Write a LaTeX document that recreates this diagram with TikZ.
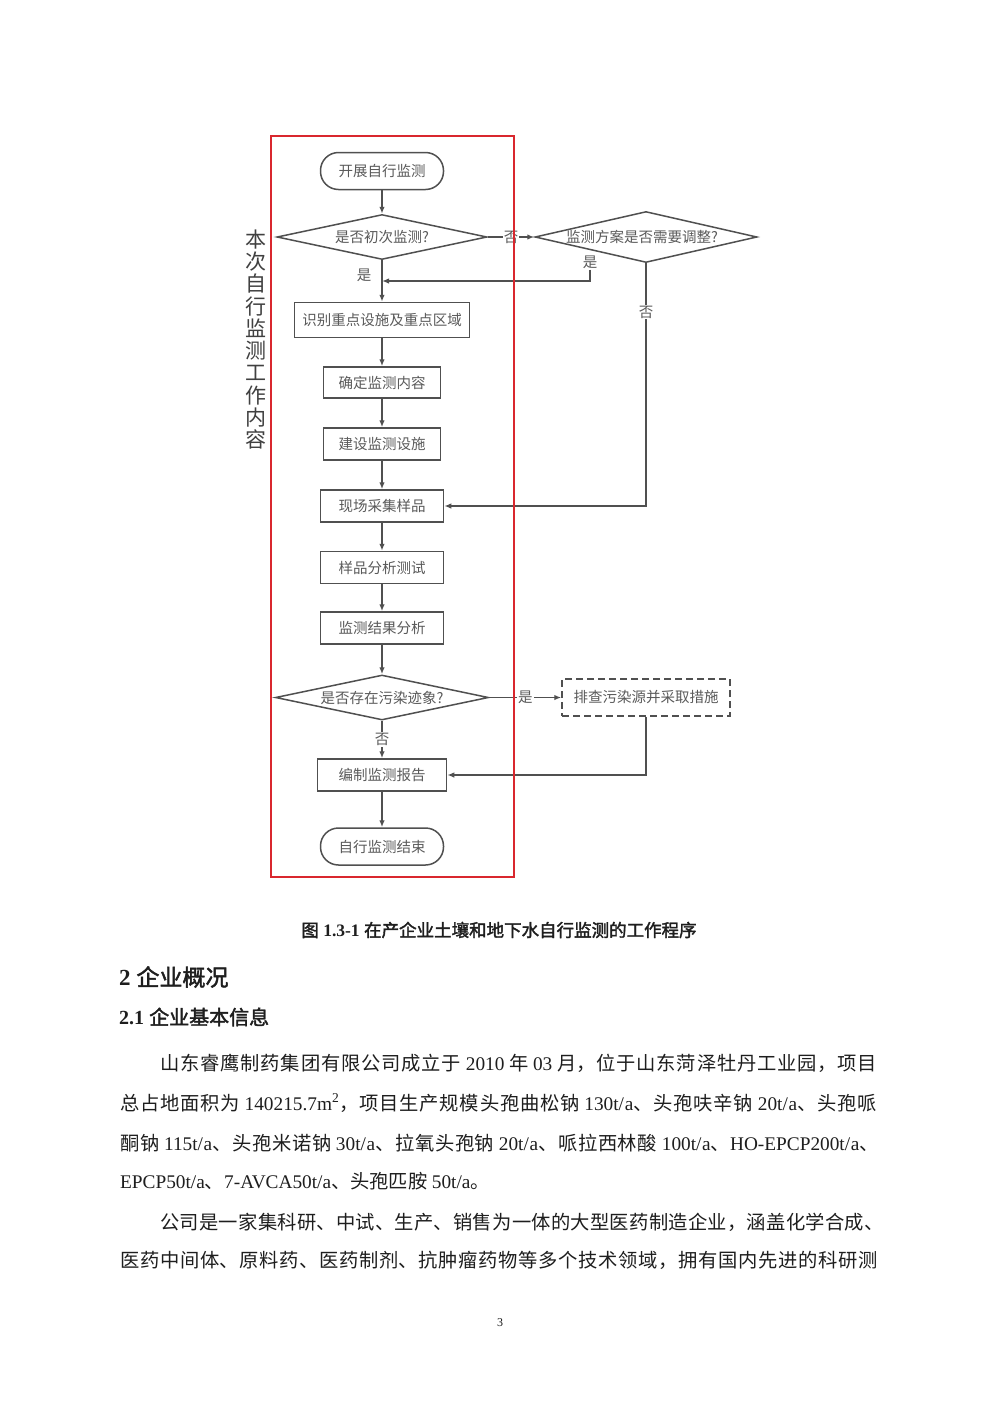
\documentclass[tikz,border=0pt]{standalone}
\usepackage{fontspec}
\setmainfont{Liberation Serif}
\newfontfamily\cjk{Noto Sans CJK SC}
\newfontfamily\cjkb[FakeBold=2]{Noto Sans CJK SC}
\usetikzlibrary{shapes.geometric,arrows.meta}
\XeTeXlinebreaklocale "zh"
\XeTeXlinebreakskip=0pt plus 3pt
\definecolor{ln}{HTML}{505050}
\definecolor{tx}{HTML}{5A5A5A}
\definecolor{redbox}{HTML}{D9272E}
\definecolor{body}{HTML}{1E1E1E}
\newcommand\en[1]{{\rmfamily #1}}
\newcommand\jline{\parfillskip=0pt \parindent=0pt \spaceskip=4.5pt plus 0.5pt minus 0.5pt \tolerance=9999 }
\begin{document}
\begin{tikzpicture}[x=1pt,y=-1pt,
  flow/.style={draw=ln, line width=1.5pt, text=tx, font=\cjk\fontsize{14.5}{16}\selectfont, inner sep=0pt},
  term/.style={flow, rectangle, rounded corners=18pt, minimum width=123pt, minimum height=37pt},
  proc/.style={flow, rectangle, minimum height=32pt},
  dec/.style={flow, diamond, aspect=4.5},
  lbl/.style={text=tx, font=\cjk\fontsize{14.5}{16}\selectfont, inner sep=1pt},
  arr/.style={draw=ln, line width=1.5pt, -{Latex[length=7pt,width=5.5pt]}},
  lnk/.style={draw=ln, line width=1.5pt},
  bodytext/.style={text=body, font=\cjk\fontsize{19.3}{24}\selectfont, inner sep=0pt, anchor=west}
]
\useasboundingbox (0,0) rectangle (1000,1414);
\fill[white] (0,0) rectangle (1000,1414);

% flowchart nodes
\node[term] (start) at (382,171) {开展自行监测};
\node[dec, minimum width=210pt, minimum height=45pt] (d1) at (382,237) {\makebox[0pt]{是否初次监测?}};
\node[dec, minimum width=222pt, minimum height=51pt] (d2) at (646,237) {\makebox[0pt]{\kern-8pt 监测方案是否需要调整?}};
\node[proc, minimum width=175pt, minimum height=35pt] (b1) at (382,320) {识别重点设施及重点区域};
\node[proc, minimum width=117pt, minimum height=31pt] (b2) at (382,382.5) {确定监测内容};
\node[proc, minimum width=117pt] (b3) at (382,444) {建设监测设施};
\node[proc, minimum width=123pt] (b4) at (382,506) {现场采集样品};
\node[proc, minimum width=123pt] (b5) at (382,567.5) {样品分析测试};
\node[proc, minimum width=123pt] (b6) at (382,628) {监测结果分析};
\node[dec, minimum width=213pt, minimum height=45pt] (d3) at (382,697.5) {\makebox[0pt]{是否存在污染迹象?}};
\node[proc, dashed, dash pattern=on 7pt off 4pt, minimum width=168pt, minimum height=37pt] (fix) at (646,697.5) {排查污染源并采取措施};
\node[proc, minimum width=129pt] (b7) at (382,775) {编制监测报告};
\node[term] (end) at (382,846.5) {自行监测结束};

% labels
\node[lbl] (l1yes) at (364,275) {是};
\node[lbl] (d2yes) at (590,262) {是};
\node[lbl] (d2no) at (646,312) {否};
\coordinate (m1) at (382,281);

% connectors
\draw[arr] (start) -- (d1);
\draw[arr] (d1) -- (b1);
\draw[arr] (d1.east) -- node[lbl, fill=white]{否} (d2.west);
\draw[arr] (d2yes.south) |- (m1);
\draw[lnk] (d2.south) -- (d2no.north);
\draw[arr] (d2no.south) |- (b4.east);
\draw[arr] (b1) -- (b2);
\draw[arr] (b2) -- (b3);
\draw[arr] (b3) -- (b4);
\draw[arr] (b4) -- (b5);
\draw[arr] (b5) -- (b6);
\draw[arr] (b6) -- (d3);
\draw[arr] (d3.east) -- node[lbl, fill=white]{是} (fix.west);
\draw[arr] (fix.south) |- (b7.east);
\draw[arr] (d3.south) -- node[lbl, fill=white]{否} (b7.north);
\draw[arr] (b7) -- (end);

% red frame and side title
\draw[redbox, line width=2.2pt] (271,136) rectangle (514,877);
\node[text=black!75, font=\cjk\fontsize{21}{22.3}\selectfont, align=center, inner sep=0pt] (vt) at (256,339.5)
  {本\\次\\自\\行\\监\\测\\工\\作\\内\\容};

% caption and headings
\node[text=body, font=\fontsize{17.5}{20}\selectfont, inner sep=0pt] (cap) at (499,930)
  {{\cjkb 图} {\bfseries 1.3-1} {\cjkb 在产企业土壤和地下水自行监测的工作程序}};
\node[text=body, font=\fontsize{23}{26}\selectfont, inner sep=0pt, anchor=west] (h1) at (119,977)
  {{\bfseries 2} {\cjkb 企业概况}};
\node[text=body, font=\fontsize{20}{24}\selectfont, inner sep=0pt, anchor=west] (h2) at (119,1017)
  {{\bfseries 2.1} {\cjkb 企业基本信息}};

% body text
\node[bodytext, text width=727pt] (p1) at (160,1063) {\jline 山东睿鹰制药集团有限公司成立于 \en{2010} 年 \en{03} 月，位于山东菏泽牡丹工业园，项目\par};
\node[bodytext, text width=767pt] (p2) at (120,1103) {\jline 总占地面积为 \en{140215.7m\textsuperscript{2}}，项目生产规模头孢曲松钠 \en{130t/a}、头孢呋辛钠 \en{20t/a}、头孢哌\par};
\node[bodytext, text width=767pt] (p3) at (120,1143) {\jline 酮钠 \en{115t/a}、头孢米诺钠 \en{30t/a}、拉氧头孢钠 \en{20t/a}、哌拉西林酸 \en{100t/a}、\en{HO-EPCP200t/a}、\par};
\node[bodytext] (p4) at (120,1181) {\en{EPCP50t/a}、\en{7-AVCA50t/a}、头孢匹胺 \en{50t/a}。};
\node[bodytext, text width=727pt] (p5) at (160,1222) {\jline 公司是一家集科研、中试、生产、销售为一体的大型医药制造企业，涵盖化学合成、\par};
\node[bodytext, text width=767pt] (p6) at (120,1260) {\jline 医药中间体、原料药、医药制剂、抗肿瘤药物等多个技术领域，拥有国内先进的科研测\par};

\node[text=body, font=\fontsize{12}{14}\selectfont, inner sep=0pt] (pg) at (500,1323) {3};
\end{tikzpicture}
\end{document}
